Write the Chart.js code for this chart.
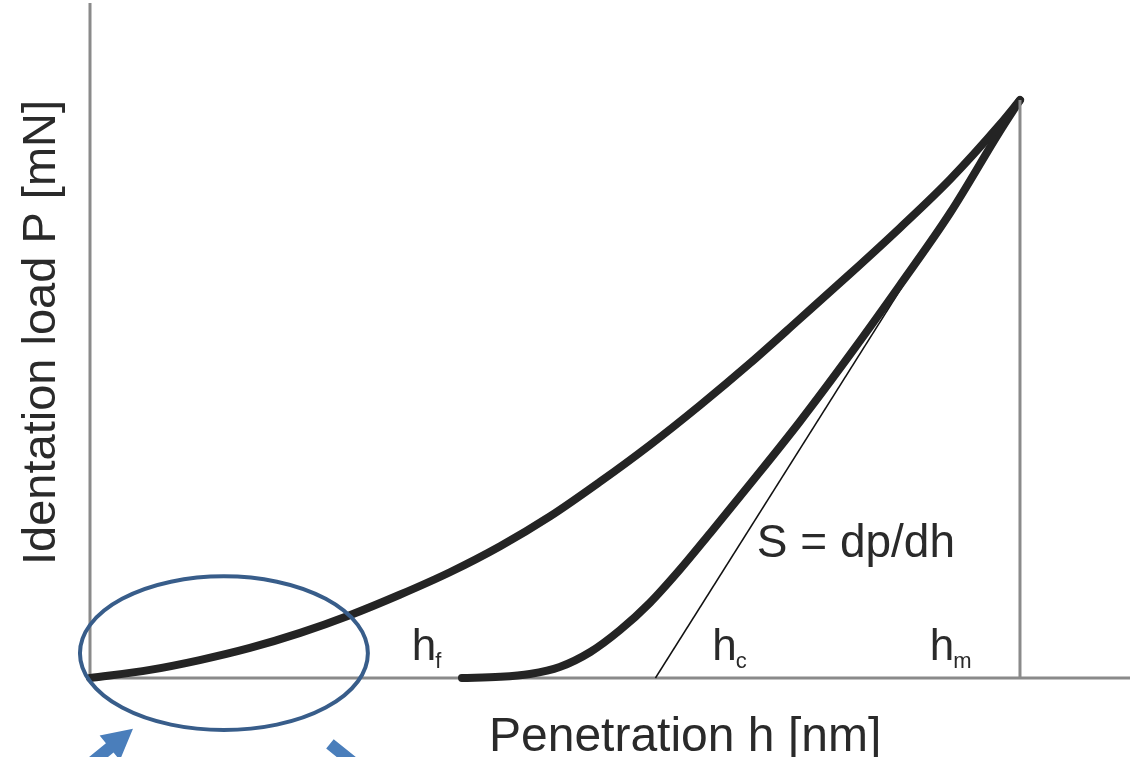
<!DOCTYPE html>
<html>
<head>
<meta charset="utf-8">
<script src="https://cdn.jsdelivr.net/npm/chart.js@4/dist/chart.umd.min.js"></script>
<style>
  html, body { margin: 0; padding: 0; background: #fff; }
  #caixa { width: 1136px; height: 757px; }
</style>
</head>
<body>
<div id="caixa"><canvas id="graficoIndentacao"></canvas></div>
<script>
// curva de carga (penetracao h em nm, carga P em mN)
const cargaH = [0, 64.5, 118, 172, 226, 280, 333, 387, 441, 495, 548, 602, 656, 710, 763, 817, 871, 925, 978, 1000];
const cargaP = [0, 1.4, 3.1, 5.2, 7.8, 10.9, 14.4, 18.3, 22.8, 28.0, 33.9, 40.3, 47.2, 54.5, 62.1, 69.9, 77.9, 86.3, 95.7, 100];

// curva de descarga
const descargaH = [400, 441, 473, 505, 538, 570, 602, 634, 667, 710, 763, 817, 871, 925, 978, 1000];
const descargaP = [0, 0.2, 0.7, 1.9, 4.5, 8.3, 13.0, 18.7, 25.1, 33.6, 44.3, 55.9, 68.0, 80.5, 94.5, 100];

// tangente S = dp/dh e linha da penetracao maxima
const tangenteH = [608, 1000];
const tangenteP = [0, 100];
const maximaH = [1000, 1000];
const maximaP = [0, 100];

const rotuloEixoX = 'Penetration h [nm]';
const rotuloEixoY = 'Identation load P [mN]';
const rotulosH = ['f', 'c', 'm'];
const rotulosHpos = [346, 669, 903];
const rotuloRigidez = 'S = dp/dh';

function pontos(xs, ys) {
  return xs.map((x, i) => ({ x: x, y: ys[i] }));
}

const fonte = '"Liberation Sans", Arial, sans-serif';

const desenhaExtras = {
  id: 'desenhaExtras',
  beforeDatasetsDraw(chart) {
    const ctx = chart.ctx;
    const a = chart.chartArea;
    ctx.save();
    ctx.strokeStyle = '#8a8a8a';
    ctx.lineWidth = 3;
    ctx.beginPath();
    ctx.moveTo(a.left, a.top);
    ctx.lineTo(a.left, a.bottom);
    ctx.lineTo(a.right, a.bottom);
    ctx.stroke();
    ctx.restore();
  },
  afterDatasetsDraw(chart) {
    const ctx = chart.ctx;
    const sx = chart.scales.x;
    const sy = chart.scales.y;
    const px = (h) => sx.getPixelForValue(h);
    const py = (p) => sy.getPixelForValue(p);

    ctx.save();
    ctx.fillStyle = '#2a2a2a';
    ctx.textBaseline = 'alphabetic';

    // titulos dos eixos
    ctx.font = '48px ' + fonte;
    ctx.textAlign = 'left';
    ctx.fillText(rotuloEixoX, 489, 751);
    ctx.font = '47px ' + fonte;
    ctx.save();
    ctx.translate(55, 565);
    ctx.rotate(-Math.PI / 2);
    ctx.fillText(rotuloEixoY, 0, 0);
    ctx.restore();

    // h_f, h_c, h_m
    rotulosH.forEach((sub, i) => {
      const x = px(rotulosHpos[i]);
      const y = py(3.1);
      ctx.font = '44px ' + fonte;
      ctx.fillText('h', x, y);
      const w = ctx.measureText('h').width;
      ctx.font = '22px ' + fonte;
      ctx.fillText(sub, x + w - 1, y + 8);
    });

    ctx.font = '46px ' + fonte;
    ctx.fillText(rotuloRigidez, px(717), py(20.9));

    // elipse de destaque
    const cx = px(144), cy = py(4.3);
    const rx = px(144 + 154.8) - cx;
    const ry = cy - py(4.3 + 13.3);
    ctx.strokeStyle = '#385d8a';
    ctx.lineWidth = 4;
    ctx.beginPath();
    ctx.ellipse(cx, cy, rx, ry, 0, 0, Math.PI * 2);
    ctx.stroke();

    // setas
    seta(ctx, px(-10.8), py(-16.3), px(46.2), py(-8.8));
    seta(ctx, px(258), py(-11.4), px(333), py(-21.1));
    ctx.restore();
  }
};

function seta(ctx, x0, y0, x1, y1) {
  const ang = Math.atan2(y1 - y0, x1 - x0);
  const comp = Math.hypot(x1 - x0, y1 - y0);
  const haste = 6, cabeca = 16, compCabeca = 30;
  ctx.save();
  ctx.translate(x0, y0);
  ctx.rotate(ang);
  ctx.fillStyle = '#4a7ebb';
  ctx.beginPath();
  ctx.moveTo(0, -haste);
  ctx.lineTo(comp - compCabeca, -haste);
  ctx.lineTo(comp - compCabeca, -cabeca);
  ctx.lineTo(comp, 0);
  ctx.lineTo(comp - compCabeca, cabeca);
  ctx.lineTo(comp - compCabeca, haste);
  ctx.lineTo(0, haste);
  ctx.closePath();
  ctx.fill();
  ctx.restore();
}

const curva = {
  showLine: true,
  pointRadius: 0,
  pointHoverRadius: 0,
  fill: false,
  clip: false
};

const grafico = new Chart(document.getElementById('graficoIndentacao'), {
  type: 'scatter',
  data: {
    datasets: [
      Object.assign({}, curva, {
        label: 'Penetração máxima',
        data: pontos(maximaH, maximaP),
        borderColor: '#8a8a8a',
        borderWidth: 3
      }),
      Object.assign({}, curva, {
        label: 'Carga',
        data: pontos(cargaH, cargaP),
        borderColor: '#242424',
        borderWidth: 8,
        cubicInterpolationMode: 'monotone',
        borderCapStyle: 'round'
      }),
      Object.assign({}, curva, {
        label: 'Descarga',
        data: pontos(descargaH, descargaP),
        borderColor: '#242424',
        borderWidth: 8,
        cubicInterpolationMode: 'monotone',
        borderCapStyle: 'round'
      }),
      Object.assign({}, curva, {
        label: 'Tangente',
        data: pontos(tangenteH, tangenteP),
        borderColor: '#111',
        borderWidth: 1.5
      })
    ]
  },
  options: {
    responsive: true,
    maintainAspectRatio: false,
    animation: false,
    layout: { padding: { left: 90, right: 6, top: 3, bottom: 79 } },
    plugins: {
      legend: { display: false },
      tooltip: { enabled: false }
    },
    scales: {
      x: { type: 'linear', min: 0, max: 1118.3, display: false },
      y: { type: 'linear', min: 0, max: 116.8, display: false }
    }
  },
  plugins: [desenhaExtras]
});
</script>
</body>
</html>
